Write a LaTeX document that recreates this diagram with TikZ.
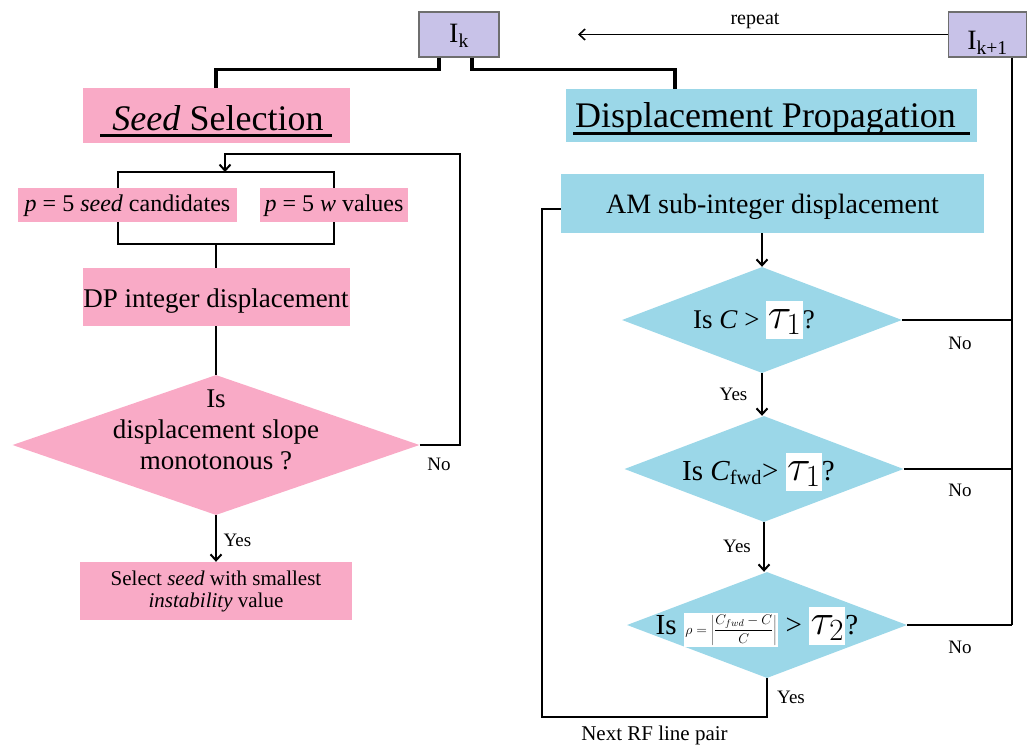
\RequirePackage{fix-cm}
\documentclass[tikz,border=0pt]{standalone}
\usepackage[no-math]{fontspec}
\setmainfont{Liberation Serif}
\usetikzlibrary{shapes.geometric,arrows.meta,calc}
\definecolor{pinkc}{RGB}{249,170,198}
\definecolor{bluec}{RGB}{155,215,232}
\definecolor{lavc}{RGB}{200,194,232}
\definecolor{edgec}{RGB}{110,110,110}
\newcommand\fsz[2]{\fontsize{#1}{#2}\selectfont}
\newcommand\ulbox[1]{\setbox0=\hbox{#1}\rlap{\rule[-7pt]{\wd0}{3pt}}\box0}
\newcommand\taubox[1]{{\setlength\fboxsep{0pt}\colorbox{white}{\rule[-11pt]{0pt}{38pt}\hspace{1.5pt}\fsz{44}{44}$\tau_{#1}$\hspace{1.5pt}}}}
\newcommand\rhobox{{\setlength\fboxsep{1.5pt}\colorbox{white}{\fsz{14}{14}$\displaystyle\rho=\left|\frac{C_{fwd}-C}{C}\right|$}}}
\tikzset{
  pbox/.style={fill=pinkc, inner sep=0pt},
  bbox/.style={fill=bluec, inner sep=0pt},
  ibox/.style={fill=lavc, draw=edgec, line width=1.2pt, inner sep=0pt, minimum width=80pt, minimum height=45pt, font=\fsz{28}{30}},
  conn/.style={line width=2.2pt},
  heavy/.style={line width=3.4pt},
  arr/.style={line width=2pt, -{Straight Barb[length=6pt,width=11pt,line width=2pt]}},
  thinarr/.style={line width=1.6pt, -{Straight Barb[length=6pt,width=11pt,line width=1.6pt]}},
  lbl/.style={font=\fsz{19}{21}, inner sep=0pt},
  dia/.style={shape=diamond, inner sep=0pt, draw=none},
}
\begin{document}
\begin{tikzpicture}[x=1pt,y=-1pt]
\useasboundingbox (0,0) rectangle (1027,749);

% top image nodes
\node[ibox, text height=17pt, text depth=0pt] (Ik) at (459,34.5) {I\textsubscript{k}};
\node[ibox, minimum width=78pt, text height=31pt, text depth=0pt] (Ik1) at (987.5,34.5) {I\textsubscript{k+1}};
\coordinate (rep) at (578,34.5);
\draw[thinarr] (Ik1.west) -- (rep);
\node[font=\fsz{20}{22}, inner sep=0pt] (replbl) at (755,21) {repeat};

% headings
\node[pbox, minimum width=267pt, minimum height=55pt, text height=29pt, text depth=0pt, font=\fsz{36}{40}] (seed) at (216,115.5) {\ulbox{\hspace{12pt}\textit{Seed} Selection\hspace{8pt}}};
\node[bbox, minimum width=411pt, minimum height=53pt, text height=25pt, text depth=0pt, font=\fsz{36}{40}] (dprop) at (771.5,115.5) {\ulbox{\hspace{2pt}Displacement Propagation\hspace{14pt}}};

\draw[heavy] ([xshift=-20pt]Ik.south) -- ++(0,12) -| (seed.north);
\draw[heavy] ([xshift=13pt]Ik.south) -- ++(0,12) -| ([xshift=-96.5pt]dprop.north);

% left column
\node[pbox, minimum width=219pt, minimum height=34pt, text height=12pt, text depth=0pt, font=\fsz{24}{26}] (cand) at (127.5,205) {\textit{p} = 5 \textit{seed} candidates};
\node[pbox, minimum width=148pt, minimum height=34pt, text height=12pt, text depth=0pt, font=\fsz{24}{26}] (wval) at (334,205) {\textit{p} = 5 \textit{w} values};
\node[pbox, minimum width=267pt, minimum height=58pt, text height=20pt, text depth=0pt, font=\fsz{27}{30}] (dp) at (216,297) {DP integer displacement};
\node[dia, fill=pinkc, minimum width=407pt, minimum height=140pt] (pd) at (216,445) {};
\node[font=\fsz{27}{31}, align=center, inner sep=0pt] (pdt) at (216,430) {Is\\displacement slope\\monotonous ?};
\node[pbox, minimum width=272pt, minimum height=58pt, align=center, font=\fsz{21}{22}] (sel) at (216,591) {Select \textit{seed} with smallest\\\textit{instability} value};

\coordinate (top) at (225,172);
\coordinate (lp) at (460,154);
\draw[conn] ([xshift=-9.5pt]cand.north) -- ++(0,-16) -| (wval.north);
\draw[conn] ([xshift=-9.5pt]cand.south) -- ++(0,22) -| (wval.south);
\draw[conn] (dp.north) -- ++(0,-24);
\draw[conn] (dp.south) -- (pd.north);
\draw[arr] (pd.east) -| (lp) -| (top);
\draw[arr] (pd.south) -- (sel.north);
\node[lbl] (nol) at (439,464) {No};
\node[lbl] (yesl) at (237.5,540) {Yes};

% right column
\node[bbox, minimum width=423pt, minimum height=59pt, text height=19pt, text depth=0pt, font=\fsz{28}{30}] (am) at (772.5,203.5) {AM sub-integer displacement};
\node[dia, fill=bluec, minimum width=280pt, minimum height=106pt] (d1) at (762,320) {};
\node[dia, fill=bluec, minimum width=279pt, minimum height=106pt] (d2) at (764,469) {};
\node[dia, fill=bluec, minimum width=280pt, minimum height=106pt] (d3) at (767,625) {};
\node[font=\fsz{27}{30}, anchor=base, inner sep=0pt] (d1t) at (754,328) {Is \textit{C} > \taubox{1}?};
\node[font=\fsz{29}{32}, anchor=base, inner sep=0pt] (d2t) at (758.5,480) {Is \textit{C}\textsubscript{fwd}> \taubox{1}?};
\node[font=\fsz{29}{32}, anchor=base, inner sep=0pt] (d3t) at (757,634) {Is \rhobox{} > \taubox{2}?};

\coordinate (nx) at (542,717);
\coordinate (rb) at (1012,625);
\draw[conn] ([yshift=-5.5pt]am.west) -| (nx) -| (d3.south);
\draw[arr] (am.south -| d1.north) -- (d1.north);
\draw[arr] (d1.south) -- (d1.south |- d2.north);
\draw[arr] (d2.south) -- (d2.south |- d3.north);
\draw[conn] ([xshift=24.5pt]Ik1.south) -- (rb);
\draw[conn] (d1.east) -- (d1.east -| rb);
\draw[conn] (d2.east) -- (d2.east -| rb);
\draw[conn] (d3.east) -- (rb);

\node[lbl] (no1) at (960,343) {No};
\node[lbl] (no2) at (960,490) {No};
\node[lbl] (no3) at (960,647) {No};
\node[lbl] (yes1) at (733.5,394) {Yes};
\node[lbl] (yes2) at (737,546) {Yes};
\node[lbl] (yes3) at (791,697) {Yes};
\node[font=\fsz{21}{23}, inner sep=0pt] (next) at (654.5,735) {Next RF line pair};
\end{tikzpicture}
\end{document}
